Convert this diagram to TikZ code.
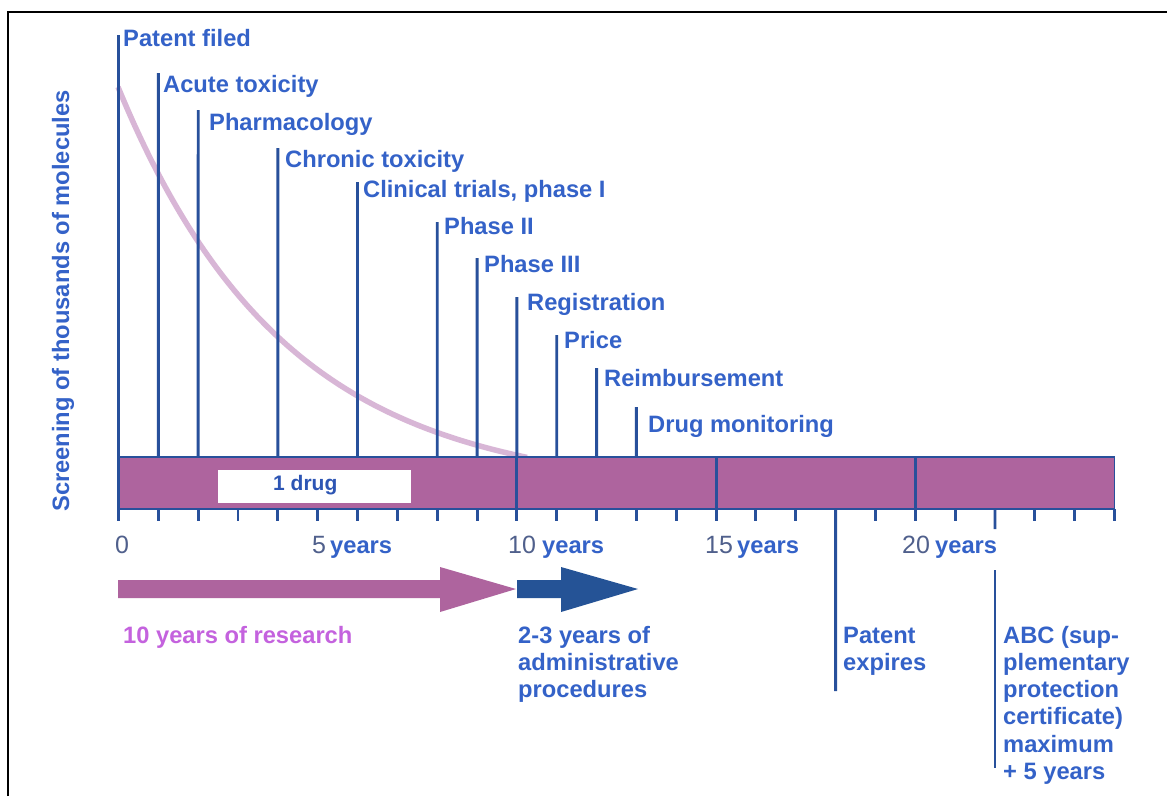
\documentclass[tikz,border=0pt]{standalone}
\usepackage{fontspec}
\setmainfont{Liberation Sans}
\definecolor{lblc}{RGB}{52,98,200}
\definecolor{lnc}{RGB}{40,80,155}
\definecolor{barc}{RGB}{174,100,158}
\definecolor{curvec}{RGB}{216,182,214}
\definecolor{numc}{RGB}{80,96,140}
\definecolor{resc}{RGB}{196,98,222}
\definecolor{adminc}{RGB}{37,83,150}
\definecolor{drugc}{RGB}{45,85,180}
\newcommand{\bigfont}{\bfseries\fontsize{23.7}{27.3}\selectfont}
\begin{document}
\begin{tikzpicture}[x=1pt,y=-1pt,
  milestone/.style={anchor=base west, inner sep=0pt, text=lblc, font=\bigfont},
  mline/.style={draw=lnc, line width=2.9pt},
  tickmark/.style={draw=lnc, line width=2.9pt},
  yearnum/.style={anchor=base west, inner sep=0pt, text=numc, font=\fontsize{25}{28}\selectfont},
  yearword/.style={anchor=base west, inner sep=0pt, text=lblc, font=\bigfont},
]
\useasboundingbox (0,0) rectangle (1167,796);
\fill[white] (0,0) rectangle (1167,796);
% frame
\draw[line width=2.2pt, black] (8,796) -- (8,12) -- (1167,12);

% decay curve
\draw[curvec, line width=5.5pt] plot[domain=118:527, samples=80, smooth] (\x, {87 + 370*(1-exp(-0.006*(\x-118)))/0.913});

% bar
\draw[fill=barc, draw=lnc, line width=1.3pt] (118.5,457) rectangle (1114.5,509);
\node[fill=white, inner sep=0pt, minimum width=193pt, minimum height=33pt, anchor=north west] (drugbox) at (218,470) {};
\node[anchor=base west, inner sep=0pt, text=drugc, font=\bfseries\fontsize{21}{24}\selectfont] (drug) at (273,490) {1 drug};

% ticks below bar
\foreach \n in {0,...,25} {
  \coordinate (t\n) at ({118.5+39.84*\n},509);
  \draw[tickmark] (t\n) -- ++(0,12);
}
% lines through the bar
\foreach \n in {10,15,20} {
  \draw[mline] ({118.5+39.84*\n},457) -- ({118.5+39.84*\n},509);
}

% milestone coordinates (tops) and lines
\coordinate (m0) at (118.5,35);
\coordinate (m1) at (158.3,73);
\coordinate (m2) at (198.2,110);
\coordinate (m4) at (277.9,148);
\coordinate (m6) at (357.5,182);
\coordinate (m8) at (437.2,222);
\coordinate (m9) at (477.1,258);
\coordinate (m10) at (516.9,297);
\coordinate (m11) at (556.7,335);
\coordinate (m12) at (596.6,368);
\coordinate (m13) at (636.4,407);
\draw[mline] (m0) -- (118.5,521);
\foreach \n in {1,2,4,6,8,9,10,11,12,13} {
  \draw[mline] (m\n) -- ({118.5+39.84*\n},457);
}

% milestone labels
\node[milestone] (l0) at (123,46) {Patent filed};
\node[milestone] (l1) at (163,92) {Acute toxicity};
\node[milestone] (l2) at (209,130) {Pharmacology};
\node[milestone] (l4) at (285,167) {Chronic toxicity};
\node[milestone] (l6) at (363,197) {Clinical trials, phase I};
\node[milestone] (l8) at (444,234) {Phase II};
\node[milestone] (l9) at (484,272) {Phase III};
\node[milestone] (l10) at (527,310) {Registration};
\node[milestone] (l11) at (564,348) {Price};
\node[milestone] (l12) at (604,386) {Reimbursement};
\node[milestone] (l13) at (648,432) {Drug monitoring};

% year labels
\node[yearnum] (y0) at (115,553) {0};
\node[yearnum] (y5) at (312,553) {5};
\node[yearword] (y5w) at (330,553) {years};
\node[yearnum] (y10) at (508,553) {10};
\node[yearword] (y10w) at (542,553) {years};
\node[yearnum] (y15) at (705,553) {15};
\node[yearword] (y15w) at (737,553) {years};
\node[yearnum] (y20) at (902,553) {20};
\node[yearword] (y20w) at (935,553) {years};

% patent expiry and ABC lines
\coordinate (pe) at (835.6,691);
\coordinate (abcA) at (995.0,529);
\coordinate (abcB) at (995.0,570);
\coordinate (abcC) at (995.0,768);
\draw[mline] (t18) -- (pe);
\draw[mline] (t22) -- (abcA);
\draw[mline] (abcB) -- (abcC);

% arrows
\fill[barc] (118,580) -- (440,580) -- (440,567) -- (516,589) -- (440,612) -- (440,598) -- (118,598) -- cycle;
\fill[adminc] (517,580) -- (561,580) -- (561,567) -- (638,589) -- (561,612) -- (561,598) -- (517,598) -- cycle;

% bottom texts
\node[milestone, text=resc] (research) at (123,643) {10 years of research};
\node[milestone] (admin) at (518,643) {\begin{tabular}[t]{@{}l@{}}2-3 years of\\administrative\\procedures\end{tabular}};
\node[milestone] (expires) at (843,643) {\begin{tabular}[t]{@{}l@{}}Patent\\expires\end{tabular}};
\node[milestone] (abc) at (1003,643) {\begin{tabular}[t]{@{}l@{}}ABC (sup-\\plementary\\protection\\certificate)\\maximum\\+ 5 years\end{tabular}};

% y-axis label
\node[rotate=90, anchor=base, inner sep=0pt, text=lblc, font=\bigfont] (ylabel) at (69,301) {Screening of thousands of molecules};
\end{tikzpicture}
\end{document}
